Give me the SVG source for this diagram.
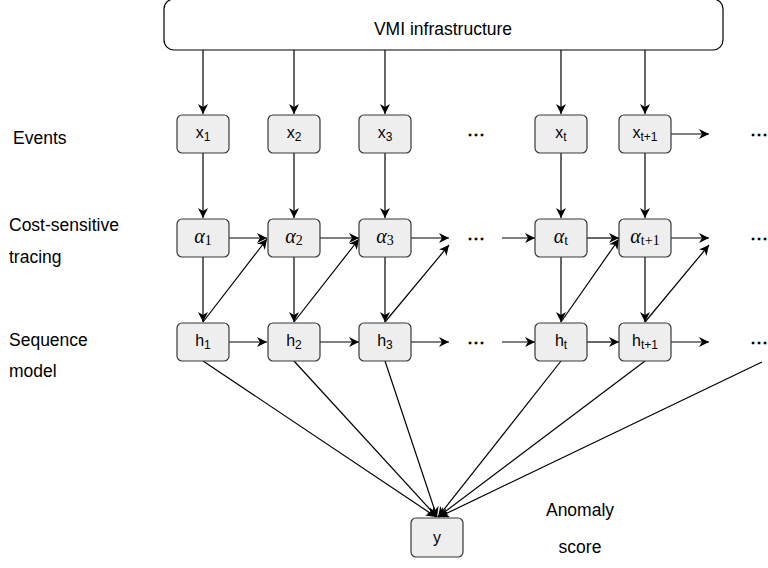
<svg xmlns="http://www.w3.org/2000/svg" width="768" height="568" viewBox="0 0 768 568">
  <style>
    .node { fill: #eeeeee; stroke: #36393d; stroke-width: 1.2; }
    .lbl { font-family: "Liberation Sans", Arial, sans-serif; fill: #000; }
    .side { font-family: "Liberation Sans", Arial, sans-serif; font-size: 17.5px; fill: #000; }
    .mlbl { font-family: "Liberation Sans", Arial, sans-serif; font-size: 16px; text-anchor: middle; fill: #000; }
    .sub { font-size: 12px; }
    .greek { font-family: "Liberation Serif", "Times New Roman", serif; font-size: 20px; text-anchor: middle; fill: #000; }
    .gi { font-style: italic; }
    .gs { font-size: 14px; font-style: normal; }
    .dots { font-family: "Liberation Sans", Arial, sans-serif; font-size: 18px; font-weight: bold; fill: #000; }
    .edge { stroke: #000; stroke-width: 1.2; fill: none; marker-end: url(#arrow); }
  </style>
  <defs>
    <marker id="arrow" markerUnits="userSpaceOnUse" markerWidth="12" markerHeight="10" refX="10" refY="5" orient="auto">
      <path d="M0,0 L10,5 L0,10 L3,5 Z" fill="#000"/>
    </marker>
  </defs>

  <rect width="768" height="568" fill="#ffffff"/>

  <!-- row labels -->
  <g id="row-labels">
    <text class="side" x="13" y="144">Events</text>
    <text class="side" x="9" y="231">Cost-sensitive</text>
    <text class="side" x="9" y="263">tracing</text>
    <text class="side" x="9" y="346">Sequence</text>
    <text class="side" x="9" y="377">model</text>
    <text class="side" x="580" y="516" text-anchor="middle">Anomaly</text>
    <text class="side" x="580" y="553" text-anchor="middle">score</text>
  </g>

  <!-- connectors -->
  <g id="connectors">
    <!-- infrastructure to events -->
    <line class="edge" x1="203" y1="50" x2="203" y2="114"/>
    <line class="edge" x1="294" y1="50" x2="294" y2="114"/>
    <line class="edge" x1="385" y1="50" x2="385" y2="114"/>
    <line class="edge" x1="561" y1="50" x2="561" y2="114"/>
    <line class="edge" x1="645" y1="49" x2="645" y2="114"/>
    <!-- events to tracing -->
    <line class="edge" x1="203" y1="153" x2="203" y2="218"/>
    <line class="edge" x1="294" y1="153" x2="294" y2="218"/>
    <line class="edge" x1="385" y1="153" x2="385" y2="218"/>
    <line class="edge" x1="561" y1="153" x2="561" y2="218"/>
    <line class="edge" x1="645" y1="153" x2="645" y2="218"/>
    <line class="edge" x1="671" y1="134" x2="709" y2="134"/>
    <!-- tracing chain -->
    <line class="edge" x1="229" y1="238" x2="267" y2="238"/>
    <line class="edge" x1="320" y1="238" x2="359" y2="238"/>
    <line class="edge" x1="411" y1="238" x2="449" y2="238"/>
    <line class="edge" x1="502" y1="238" x2="535" y2="238"/>
    <line class="edge" x1="587" y1="238" x2="619" y2="238"/>
    <line class="edge" x1="671" y1="238" x2="709" y2="238"/>
    <!-- tracing to sequence model -->
    <line class="edge" x1="203" y1="257" x2="203" y2="322"/>
    <line class="edge" x1="294" y1="257" x2="294" y2="322"/>
    <line class="edge" x1="385" y1="257" x2="385" y2="322"/>
    <line class="edge" x1="561" y1="257" x2="561" y2="322"/>
    <line class="edge" x1="645" y1="257" x2="645" y2="322"/>
    <!-- feedback from hidden state to next tracing step -->
    <line class="edge" x1="203" y1="322" x2="267" y2="239"/>
    <line class="edge" x1="294" y1="322" x2="359" y2="239"/>
    <line class="edge" x1="385" y1="322" x2="449" y2="245"/>
    <line class="edge" x1="561" y1="322" x2="619" y2="239"/>
    <line class="edge" x1="645" y1="322" x2="709" y2="245"/>
    <!-- sequence chain -->
    <line class="edge" x1="229" y1="342" x2="267" y2="342"/>
    <line class="edge" x1="320" y1="342" x2="359" y2="342"/>
    <line class="edge" x1="411" y1="342" x2="449" y2="342"/>
    <line class="edge" x1="502" y1="342" x2="535" y2="342"/>
    <line class="edge" x1="587" y1="342" x2="619" y2="342"/>
    <line class="edge" x1="671" y1="342" x2="709" y2="342"/>
    <!-- hidden states to anomaly score -->
    <line class="edge" x1="203" y1="361" x2="436" y2="517"/>
    <line class="edge" x1="294" y1="361" x2="437" y2="517"/>
    <line class="edge" x1="385" y1="361" x2="437" y2="517"/>
    <line class="edge" x1="561" y1="361" x2="438" y2="517"/>
    <line class="edge" x1="645" y1="361" x2="438" y2="517"/>
    <line class="edge" x1="762" y1="362" x2="439" y2="517"/>
  </g>

  <g id="vmi">
    <rect x="164" y="-1" width="559" height="51" rx="10" fill="#ffffff" stroke="#000" stroke-width="1.2"/>
    <text class="lbl" x="443" y="35" font-size="17.5" text-anchor="middle">VMI infrastructure</text>
  </g>

  <!-- events -->
  <g id="x1"><rect class="node" x="177" y="115" width="52" height="38" rx="5"/><text class="mlbl" x="203" y="138">x<tspan class="sub" dy="3">1</tspan></text></g>
  <g id="x2"><rect class="node" x="268" y="115" width="52" height="38" rx="5"/><text class="mlbl" x="294" y="138">x<tspan class="sub" dy="3">2</tspan></text></g>
  <g id="x3"><rect class="node" x="359" y="115" width="52" height="38" rx="5"/><text class="mlbl" x="385" y="138">x<tspan class="sub" dy="3">3</tspan></text></g>
  <g id="xt"><rect class="node" x="535" y="115" width="52" height="38" rx="5"/><text class="mlbl" x="561" y="138">x<tspan class="sub" dy="3">t</tspan></text></g>
  <g id="xt1"><rect class="node" x="619" y="115" width="52" height="38" rx="5"/><text class="mlbl" x="645" y="138">x<tspan class="sub" dy="3">t+1</tspan></text></g>

  <!-- tracing -->
  <g id="a1"><rect class="node" x="177" y="219" width="52" height="38" rx="5"/><text class="greek" x="203" y="243"><tspan class="gi">α</tspan><tspan class="gs" dy="2">1</tspan></text></g>
  <g id="a2"><rect class="node" x="268" y="219" width="52" height="38" rx="5"/><text class="greek" x="294" y="243"><tspan class="gi">α</tspan><tspan class="gs" dy="2">2</tspan></text></g>
  <g id="a3"><rect class="node" x="359" y="219" width="52" height="38" rx="5"/><text class="greek" x="385" y="243"><tspan class="gi">α</tspan><tspan class="gs" dy="2">3</tspan></text></g>
  <g id="at"><rect class="node" x="535" y="219" width="52" height="38" rx="5"/><text class="greek" x="561" y="243"><tspan class="gi">α</tspan><tspan class="gs" dy="2" font-style="italic">t</tspan></text></g>
  <g id="at1"><rect class="node" x="619" y="219" width="52" height="38" rx="5"/><text class="greek" x="645" y="243"><tspan class="gi">α</tspan><tspan class="gs" dy="2" font-style="italic">t</tspan><tspan class="gs">+1</tspan></text></g>

  <!-- sequence model -->
  <g id="h1"><rect class="node" x="177" y="323" width="52" height="38" rx="5"/><text class="mlbl" x="203" y="346">h<tspan class="sub" dy="3">1</tspan></text></g>
  <g id="h2"><rect class="node" x="268" y="323" width="52" height="38" rx="5"/><text class="mlbl" x="294" y="346">h<tspan class="sub" dy="3">2</tspan></text></g>
  <g id="h3"><rect class="node" x="359" y="323" width="52" height="38" rx="5"/><text class="mlbl" x="385" y="346">h<tspan class="sub" dy="3">3</tspan></text></g>
  <g id="ht"><rect class="node" x="535" y="323" width="52" height="38" rx="5"/><text class="mlbl" x="561" y="346">h<tspan class="sub" dy="3">t</tspan></text></g>
  <g id="ht1"><rect class="node" x="619" y="323" width="52" height="38" rx="5"/><text class="mlbl" x="645" y="346">h<tspan class="sub" dy="3">t+1</tspan></text></g>

  <!-- anomaly score -->
  <g id="y"><rect class="node" x="411" y="518" width="52" height="39" rx="5"/><text class="mlbl" x="437" y="543">y</text></g>

  <!-- continuation marks -->
  <g id="ellipses">
    <text class="dots" x="476" y="140" text-anchor="middle">⋯</text>
    <text class="dots" x="476" y="244" text-anchor="middle">⋯</text>
    <text class="dots" x="476" y="348" text-anchor="middle">⋯</text>
    <text class="dots" x="750" y="140">⋯</text>
    <text class="dots" x="750" y="244">⋯</text>
    <text class="dots" x="750" y="348">⋯</text>
  </g>
</svg>
